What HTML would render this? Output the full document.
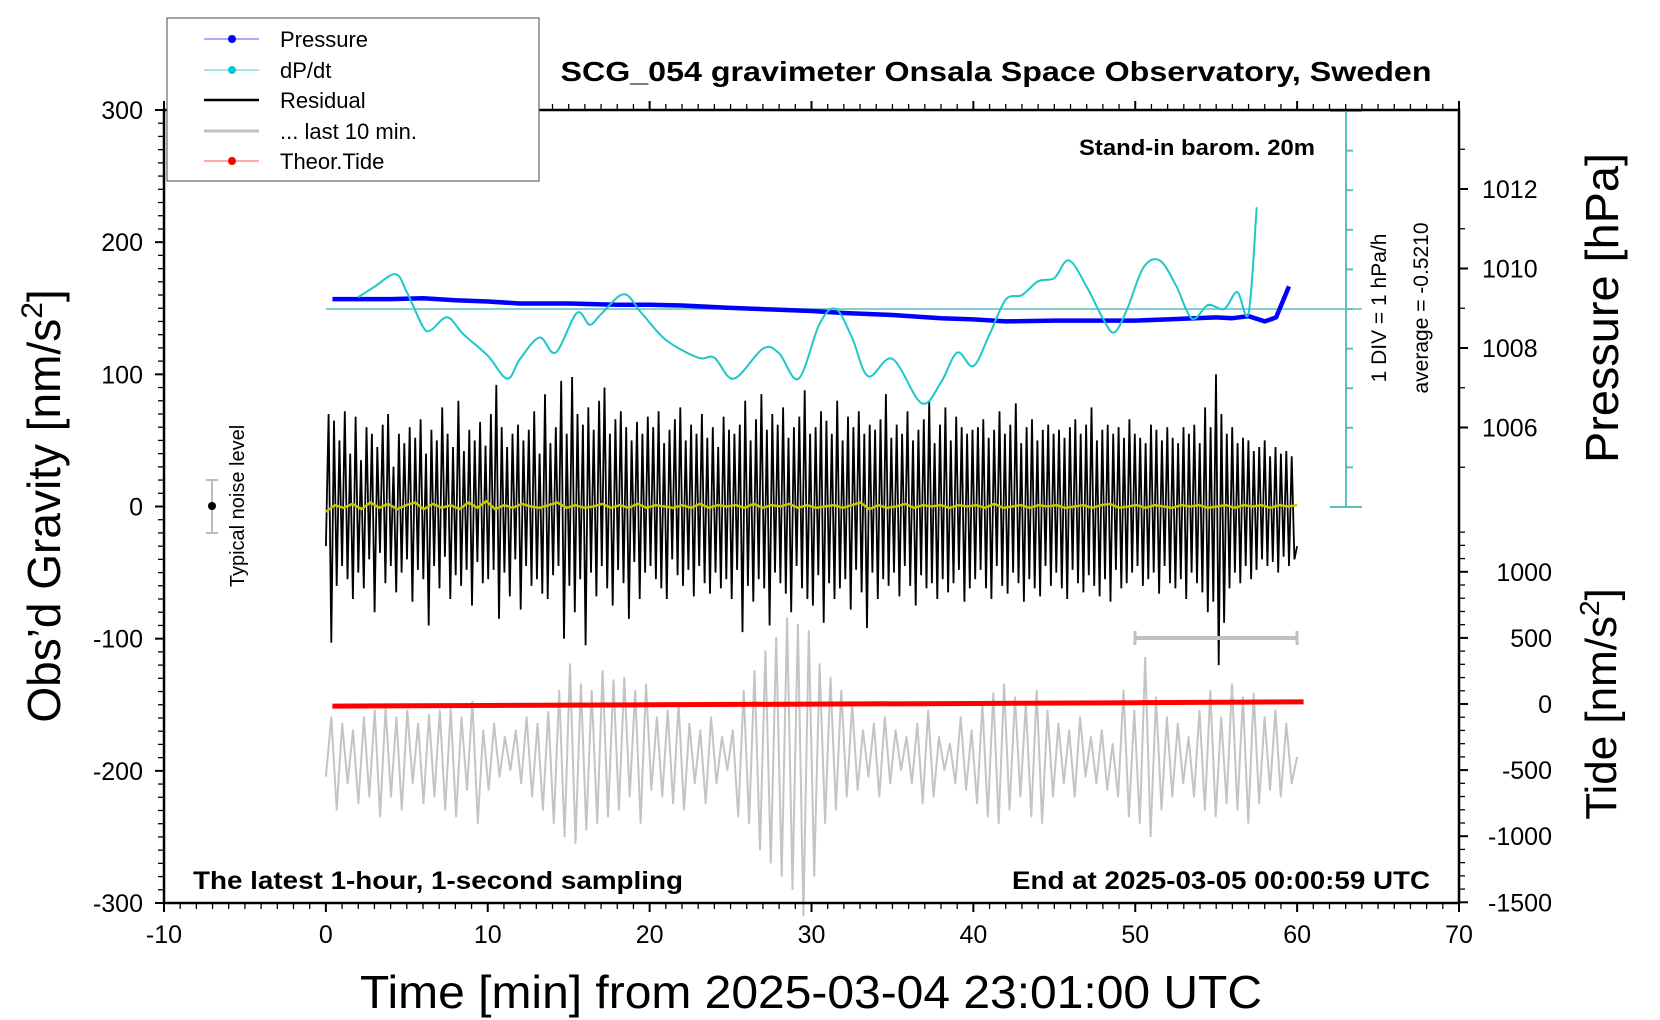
<!DOCTYPE html>
<html>
<head>
<meta charset="utf-8">
<style>
html,body{margin:0;padding:0;background:#fff;}
svg{display:block;}
text{font-family:"Liberation Sans",sans-serif;}
</style>
</head>
<body>
<svg id="chart" width="1660" height="1020" viewBox="0 0 1660 1020" xmlns="http://www.w3.org/2000/svg">
  <rect x="0" y="0" width="1660" height="1020" fill="#fff"/>
  <g id="ticks"></g>
  <g id="series"></g>
  <rect x="164" y="110" width="1295" height="793" fill="none" stroke="#000" stroke-width="2.5"/>
  <text x="996" y="81" font-size="28" font-weight="bold" text-anchor="middle" textLength="871" lengthAdjust="spacingAndGlyphs">SCG_054 gravimeter Onsala Space Observatory, Sweden</text>
  <text x="1315" y="155" font-size="22" font-weight="bold" text-anchor="end" textLength="236" lengthAdjust="spacingAndGlyphs">Stand-in barom. 20m</text>
  <text x="193" y="889" font-size="25" font-weight="bold" textLength="490" lengthAdjust="spacingAndGlyphs">The latest 1-hour, 1-second sampling</text>
  <text x="1430" y="889" font-size="25" font-weight="bold" text-anchor="end" textLength="418" lengthAdjust="spacingAndGlyphs">End at 2025-03-05 00:00:59 UTC</text>
  <text x="811" y="1008" font-size="46" text-anchor="middle" textLength="902" lengthAdjust="spacingAndGlyphs">Time [min] from 2025-03-04 23:01:00 UTC</text>
  <text transform="translate(60,506) rotate(-90)" font-size="46" text-anchor="middle">Obs’d Gravity [nm/s<tspan font-size="30" dy="-18">2</tspan><tspan dy="18">]</tspan></text>
  <text transform="translate(1618,308) rotate(-90)" font-size="46" text-anchor="middle" textLength="310" lengthAdjust="spacingAndGlyphs">Pressure [hPa]</text>
  <text transform="translate(1616,704) rotate(-90)" font-size="44" text-anchor="middle">Tide [nm/s<tspan font-size="28" dy="-17">2</tspan><tspan dy="17">]</tspan></text>
  <text transform="translate(1386,308) rotate(-90)" font-size="21" text-anchor="middle">1 DIV = 1 hPa/h</text>
  <text transform="translate(1428,308) rotate(-90)" font-size="21" text-anchor="middle">average = -0.5210</text>
  <text transform="translate(244,506) rotate(-90)" font-size="20" text-anchor="middle">Typical noise level</text>
  <g>
    <line x1="212" y1="480" x2="212" y2="533" stroke="#bbb" stroke-width="2"/>
    <line x1="206" y1="480" x2="218" y2="480" stroke="#bbb" stroke-width="2"/>
    <line x1="206" y1="533" x2="218" y2="533" stroke="#bbb" stroke-width="2"/>
    <circle cx="212" cy="506" r="4" fill="#000"/>
  </g>
  <g>
    <line x1="1135" y1="638" x2="1297" y2="638" stroke="#c0c0c0" stroke-width="4"/>
    <line x1="1135" y1="631" x2="1135" y2="645" stroke="#c0c0c0" stroke-width="3"/>
    <line x1="1297" y1="631" x2="1297" y2="645" stroke="#c0c0c0" stroke-width="3"/>
  </g>
  <g>
    <rect x="167" y="18" width="372" height="163" fill="#fff" stroke="#666" stroke-width="1.2"/>
    <g>
      <line x1="204" y1="39" x2="259" y2="39" stroke="#55f" stroke-width="1"/><circle cx="232" cy="39" r="4" fill="#00f"/>
      <text x="280" y="47" font-size="22">Pressure</text></g>
    <g>
      <line x1="204" y1="70" x2="259" y2="70" stroke="#4cc" stroke-width="1"/><circle cx="232" cy="70" r="4" fill="#0cc"/>
      <text x="280" y="78" font-size="22">dP/dt</text></g>
    <g>
      <line x1="204" y1="100" x2="259" y2="100" stroke="#000" stroke-width="2.5"/>
      <text x="280" y="108" font-size="22">Residual</text></g>
    <g>
      <line x1="204" y1="131" x2="259" y2="131" stroke="#c0c0c0" stroke-width="3"/>
      <text x="280" y="139" font-size="22">... last 10 min.</text></g>
    <g>
      <line x1="204" y1="161" x2="259" y2="161" stroke="#f55" stroke-width="1"/><circle cx="232" cy="161" r="4" fill="#f00"/>
      <text x="280" y="169" font-size="22">Theor.Tide</text></g>
  </g>
</svg>
<script>
const NS = "http://www.w3.org/2000/svg";
const xTicks = [-10,0,10,20,30,40,50,60,70];
const gravTicks = [300,200,100,0,-100,-200,-300];
const pressTicks = [1012,1010,1008,1006];
const tideTicks = [1000,500,0,-500,-1000,-1500];

const pressTimes = [0.4,2,4,6,8,10,12,15,18,20,22,25,28,30,32,35,38,40,42,45,48,50,52,55,56,57,58,58.7,59.5];
const pressValues = [1009.23,1009.23,1009.23,1009.25,1009.2,1009.17,1009.12,1009.12,1009.09,1009.09,1009.07,1009.01,1008.96,1008.93,1008.88,1008.83,1008.75,1008.72,1008.67,1008.69,1008.69,1008.69,1008.72,1008.77,1008.75,1008.8,1008.67,1008.77,1009.55];

const dpdtTimes = [2,3,4.3,5,6,6.5,7.5,8.5,10,11.2,12,13.2,14.2,15.5,16.3,17,18.4,19.5,21,23,24,25.2,27,28,29.2,30.5,31.5,32.5,33.5,35,36.8,38,39,40,41,42,43,44,45,45.9,47,48,48.7,49.5,50.5,51.5,52.5,53.5,54.5,55.5,56.3,57,57.5];
const dpdtValues = [0.3,0.56,0.88,0.43,-0.45,-0.53,-0.21,-0.64,-1.18,-1.76,-1.26,-0.72,-1.1,-0.1,-0.4,-0.13,0.37,-0.1,-0.78,-1.23,-1.23,-1.76,-1.0,-1.12,-1.76,-0.37,0,-0.72,-1.7,-1.26,-2.38,-1.85,-1.1,-1.44,-0.64,0.24,0.35,0.7,0.78,1.23,0.56,-0.24,-0.59,0,1.04,1.23,0.61,-0.24,0.1,0,0.43,-0.1,2.57];

const residualValues = [
-30,70,-103,65,-60,50,-45,72,-55,40,-70,68,-50,35,-62,60,-40,55,-80,45,-35,62,-58,70,-45,30,-65,55,-50,48,
-40,60,-72,52,-48,66,-55,40,-90,58,-45,50,-62,75,-38,55,-70,45,-52,80,-60,42,-48,58,-75,50,-42,64,-58,46,
-55,70,-48,92,-85,60,-50,45,-68,55,-40,62,-78,50,-45,58,-60,72,-55,40,-66,85,-70,48,-52,60,-45,95,-100,55,
-60,98,-80,70,-55,62,-105,75,-50,58,-68,80,-45,90,-62,55,-75,66,-48,72,-58,60,-85,50,-42,64,-70,55,-50,68,
-45,60,-55,72,-62,48,-70,58,-40,66,-52,75,-60,50,-48,62,-68,55,-45,70,-58,52,-66,60,-50,45,-62,68,-55,58,
-70,55,-48,62,-95,80,-60,50,-72,66,-55,85,-62,58,-90,70,-50,62,-58,75,-66,52,-80,60,-45,68,-62,88,-70,55,
-75,60,-52,72,-88,65,-58,55,-70,80,-62,50,-55,68,-78,60,-48,72,-65,55,-92,62,-50,58,-70,66,-55,85,-60,52,
-50,62,-68,55,-45,72,-60,50,-75,58,-52,66,-62,80,-58,48,-70,62,-55,75,-65,50,-58,68,-48,60,-72,55,-62,58,
-55,60,-48,66,-62,52,-70,58,-45,72,-60,55,-66,62,-50,78,-58,48,-72,60,-55,66,-62,50,-68,58,-45,62,-60,55,
-50,58,-62,52,-70,60,-48,66,-58,55,-65,62,-52,75,-60,50,-68,58,-55,62,-72,55,-48,60,-62,52,-58,66,-50,55,
-45,52,-60,48,-55,62,-50,58,-66,50,-45,60,-58,52,-62,48,-55,60,-70,55,-50,62,-58,48,-65,75,-80,60,-72,100,
-120,70,-88,55,-62,60,-50,48,-58,52,-45,50,-55,42,-48,45,-40,50,-45,38,-42,45,-50,40,-38,42,-45,38,-40,-30];

const smoothValues = [-4,1,-1,2,-2,3,-1,2,-2,1,3,-2,2,-1,1,-2,3,-1,4,-2,1,-1,2,0,-1,1,3,-1,1,-1,0,2,-1,1,-1,2,-1,1,0,-1,
1,-1,2,-1,1,0,1,-1,2,-1,1,0,2,-1,1,-1,0,1,-1,1,3,-2,1,-1,0,2,-1,1,0,1,
-1,1,0,1,-1,2,-1,0,1,-1,1,0,1,-1,0,1,-1,1,2,-1,0,1,-1,1,0,-1,1,0,1,-1,0,1,-1,1,0,1,-1,1,0,1];

const greyValues = [
-550,-100,-800,-150,-600,-200,-750,-100,-700,-50,-850,-30,-700,-100,-800,-50,-600,-150,-750,-80,
-700,-50,-800,-40,-850,-100,-650,20,-900,-200,-650,-150,-550,-250,-500,-200,-600,-100,-700,-150,
-800,-60,-900,100,-1000,300,-1050,150,-950,100,-900,250,-850,180,-800,200,-700,100,-900,150,
-650,-100,-700,-50,-750,0,-800,-150,-600,-200,-750,-100,-600,-250,-500,-200,-850,100,-900,250,
-1100,400,-1200,500,-1300,650,-1400,600,-1600,550,-1300,300,-900,200,-800,100,-700,0,-650,-200,
-550,-150,-700,-100,-600,-200,-500,-250,-600,-150,-750,-50,-700,-250,-500,-300,-600,-100,-650,-200,
-750,0,-850,80,-900,150,-800,50,-700,0,-850,100,-900,-50,-700,-150,-600,-200,-700,-100,
-550,-250,-600,-200,-650,-300,-700,100,-850,-50,-900,350,-1000,50,-800,-100,-700,-150,-600,-250,
-700,-50,-800,100,-850,-100,-750,150,-800,50,-900,80,-750,-100,-650,-50,-700,-150,-600,-400];

const tideTimes = [0.4,10,20,30,40,50,60.4];
const tideValues = [-16,-11,-6,-1,4,10,16];

const X = t => 164 + (t + 10) * 16.1875;
const Yg = g => 506.5 - g * 1.3217;
const Yt = v => 704 - v * 0.1322;
const Yp = p => 189 + (1012 - p) * 39.75;
const Yd = v => 309 - v * 39.6;

const ticksG = document.getElementById('ticks');
const seriesG = document.getElementById('series');
function mk(tag, attrs, parent){
  const el = document.createElementNS(NS, tag);
  for (const k in attrs) el.setAttribute(k, attrs[k]);
  parent.appendChild(el);
  return el;
}
function tickLine(x1,y1,x2,y2,w){ return mk('line',{x1:x1,y1:y1,x2:x2,y2:y2,stroke:'#000','stroke-width':w},ticksG); }

for (let t=-10;t<=70;t++){
  const major = t%10===0;
  const len = major?9:6;
  tickLine(X(t),903,X(t),903+len,major?2:1.3);
  tickLine(X(t),110,X(t),110-len,major?2:1.3);
}
xTicks.forEach(t=>{
  const el = mk('text',{x:X(t),y:943,'font-size':25,'text-anchor':'middle'},ticksG);
  
  
  el.textContent = t;
});
for (let g=-300; g<=300; g+=10){
  const major = g%100===0;
  tickLine(164,Yg(g),164-(major?9:6),Yg(g),major?2:1.3);
}
gravTicks.forEach(g=>{
  const el = mk('text',{x:143,y:Yg(g)+9,'font-size':25,'text-anchor':'end'},ticksG);
  
  
  el.textContent = g;
});
for (let p=1013; p>=1004.5; p-=1){
  const y = Yp(p);
  if (y < 110 || y > 506) continue;
  const major = Math.round(p)%2===0;
  tickLine(1459,y,1459+(major?9:6),y,major?2:1.3);
}
pressTicks.forEach(p=>{
  const el = mk('text',{x:1482,y:Yp(p)+9,'font-size':25},ticksG);
  
  
  el.textContent = p;
});
for (let v=-1500; v<=1300; v+=100){
  const y = Yt(v);
  if (y < 520 || y > 903) continue;
  const major = v%500===0;
  tickLine(1459,y,1459+(major?9:6),y,major?2:1.3);
}
tideTicks.forEach(v=>{
  const el = mk('text',{x:1552,y:Yt(v)+9,'font-size':25,'text-anchor':'end'},ticksG);
  
  
  el.textContent = v;
});
const dAxis = mk('g',{},ticksG);


mk('line',{x1:1346,y1:Yd(5),x2:1346,y2:Yd(-5),stroke:'#5bbfbf','stroke-width':2},dAxis);
for (let v=-5; v<=5; v++){
  const end = (v===5||v===-5);
  mk('line',{x1:end?1330:1346,y1:Yd(v),x2:end?1362:1353,y2:Yd(v),stroke:'#5bbfbf','stroke-width':2},dAxis);
}
const zeroLine = mk('line',{x1:X(0),y1:Yd(0),x2:1362,y2:Yd(0),stroke:'#5bbfbf','stroke-width':1.5},seriesG);



function pts(times, vals, fx, fy){ return vals.map((v,i)=>fx(times[i]).toFixed(1)+','+fy(v).toFixed(1)).join(' '); }
function evenTimes(n, t0, t1){ const a=[]; for(let i=0;i<n;i++) a.push(t0+(t1-t0)*i/(n-1)); return a; }

const grey = mk('polyline',{points:pts(evenTimes(greyValues.length,0,60),greyValues,X,Yt),fill:'none',stroke:'#c4c4c4','stroke-width':2,'stroke-linejoin':'round'},seriesG);


const res = mk('polyline',{points:pts(evenTimes(residualValues.length,0,60),residualValues,X,Yg),fill:'none',stroke:'#000','stroke-width':1.8},seriesG);


const sm = mk('polyline',{points:pts(evenTimes(smoothValues.length,0,60),smoothValues,X,Yg),fill:'none',stroke:'#c8c800','stroke-width':2.5},seriesG);


const tide = mk('polyline',{points:pts(tideTimes,tideValues,X,Yt),fill:'none',stroke:'#f00','stroke-width':5},seriesG);


const pr = mk('polyline',{points:pts(pressTimes,pressValues,X,Yp),fill:'none',stroke:'#00f','stroke-width':4.5,'stroke-linejoin':'round'},seriesG);


function smoothPath(xs, ys){
  let d = 'M'+xs[0]+','+ys[0];
  for (let i=0;i<xs.length-1;i++){
    const x0=xs[Math.max(i-1,0)], y0=ys[Math.max(i-1,0)];
    const x1=xs[i], y1=ys[i], x2=xs[i+1], y2=ys[i+1];
    const x3=xs[Math.min(i+2,xs.length-1)], y3=ys[Math.min(i+2,xs.length-1)];
    d += ' C'+(x1+(x2-x0)/6).toFixed(1)+','+(y1+(y2-y0)/6).toFixed(1)+' '+(x2-(x3-x1)/6).toFixed(1)+','+(y2-(y3-y1)/6).toFixed(1)+' '+x2.toFixed(1)+','+y2.toFixed(1);
  }
  return d;
}
const dp = mk('path',{d:smoothPath(dpdtTimes.map(X),dpdtValues.map(Yd)),fill:'none',stroke:'#1cc8c8','stroke-width':2},seriesG);


</script>
</body>
</html>
